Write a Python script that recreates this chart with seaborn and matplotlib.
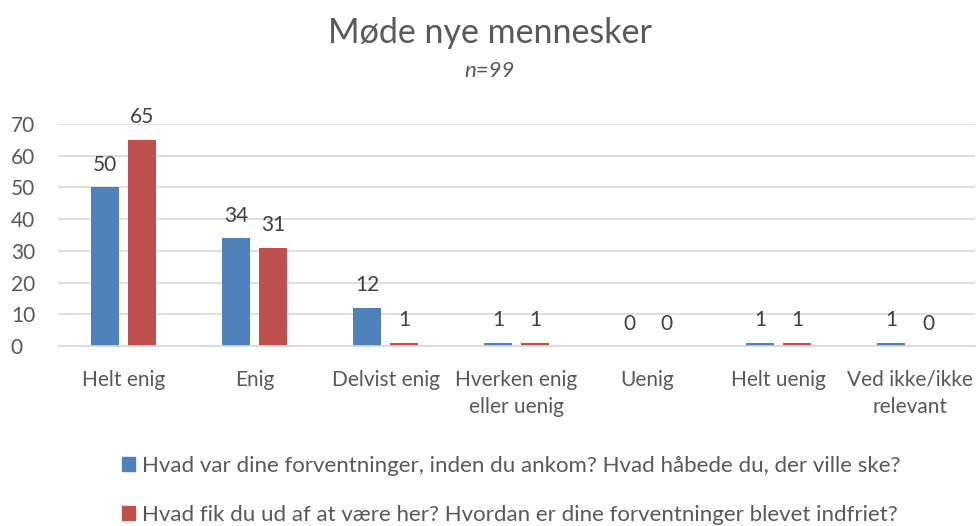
import pandas as pd
import seaborn as sns
import matplotlib.pyplot as plt

categories = ["Helt enig", "Enig", "Delvist enig", "Hverken enig\neller uenig",
              "Uenig", "Helt uenig", "Ved ikke/ikke\nrelevant"]
series = ["Hvad var dine forventninger, inden du ankom? Hvad håbede du, der ville ske?",
          "Hvad fik du ud af at være her? Hvordan er dine forventninger blevet indfriet?"]
before = [50, 34, 12, 1, 0, 1, 1]
after = [65, 31, 1, 1, 0, 1, 0]
colors = ["#4F81BD", "#C0504D"]

df = pd.DataFrame({
    "kategori": categories * 2,
    "antal": before + after,
    "serie": [series[0]] * len(categories) + [series[1]] * len(categories),
})

sns.set_style("white")
plt.rcParams["font.family"] = ["Lato", "DejaVu Sans"]
txt = "#595959"

fig = plt.figure(figsize=(9.8, 5.26), dpi=100)
ax = fig.add_axes([58 / 980, 1 - 346 / 526, 917 / 980, 222 / 526])

sns.barplot(data=df, x="kategori", y="antal", hue="serie", palette=colors,
            saturation=1, width=0.565, gap=0.22, linewidth=0, ax=ax, legend=False)

for cont in ax.containers:
    ax.bar_label(cont, padding=9, fontsize=15, color="#404040")

ax.set_ylim(0, 70)
ax.set_yticks(range(0, 71, 10))
ax.grid(axis="y", color="#D9D9D9", lw=1.2)
ax.set_axisbelow(True)
for s in ["top", "right", "left"]:
    ax.spines[s].set_visible(False)
ax.spines["bottom"].set_color("#D9D9D9")
ax.spines["bottom"].set_linewidth(1.2)
ax.tick_params(axis="both", length=0, labelsize=15, colors=txt)
ax.tick_params(axis="x", pad=17)
ax.tick_params(axis="y", pad=34)
for lbl in ax.get_yticklabels():
    lbl.set_horizontalalignment("left")
for lbl in ax.get_xticklabels():
    lbl.set_linespacing(1.45)
ax.set_xlabel("")
ax.set_ylabel("")

fig.text(0.5, 0.937, "Møde nye mennesker", ha="center", va="center",
         fontsize=24.5, color=txt)
fig.text(0.5, 0.865, "n=99", ha="center", va="center", fontsize=16,
         style="italic", color=txt)

handles = [plt.Rectangle((0, 0), 1, 1, color=c) for c in colors]
fig.legend(handles, series, loc="upper left", bbox_to_anchor=(0.115, 0.15),
           frameon=False, fontsize=16, labelcolor=txt, labelspacing=1.3,
           handlelength=0.6, handleheight=0.6, handletextpad=0.3,
           borderaxespad=0)

fig.savefig("out.png", dpi=100)
